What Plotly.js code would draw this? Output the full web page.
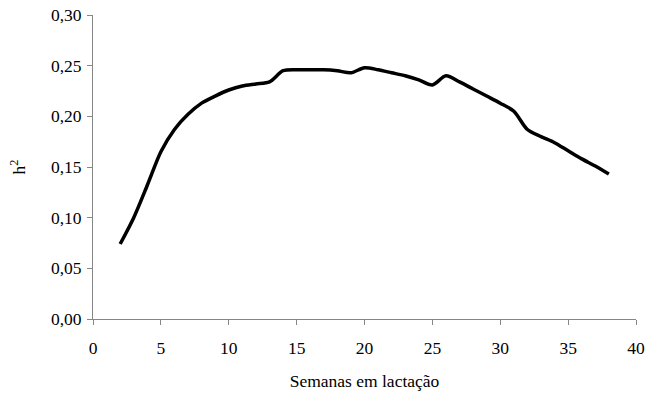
<!DOCTYPE html>
<html>
<head>
<meta charset="utf-8">
<script src="https://cdn.plot.ly/plotly-3.0.1.min.js"></script>
<style>
html,body{margin:0;padding:0;background:#fff;}
#chart{width:651px;height:394px;}
#chart svg text{font-family:'Liberation Serif','Times New Roman',serif !important;}
</style>
</head>
<body>
<div id="chart"></div>
<script>
var semanas = [2,3,4,5,6,7,8,9,10,11,12,13,14,15,16,17,18,19,20,21,22,23,24,25,26,27,28,29,30,31,32,33,34,35,36,37,38];
var h2 = [0.074,0.100,0.132,0.165,0.187,0.202,0.213,0.220,0.226,0.230,0.232,0.234,0.245,0.246,0.246,0.246,0.245,0.243,0.248,0.246,0.243,0.240,0.236,0.231,0.240,0.234,0.227,0.220,0.213,0.205,0.187,0.180,0.174,0.166,0.158,0.151,0.143];
var xTicks = [0,5,10,15,20,25,30,35,40];
var yTicks = [0,0.05,0.10,0.15,0.20,0.25,0.30];

function f(){ return {family: 'Liberation Serif', size: 17.5, color: '#000'}; }
var trace = {
  x: semanas, y: h2, type: 'scatter', mode: 'lines',
  line: {color: '#000', width: 3.5, shape: 'spline', smoothing: 0.8},
  hoverinfo: 'skip'
};
var layout = {
  width: 651, height: 394,
  margin: {l: 93, r: 15, t: 15, b: 75},
  paper_bgcolor: '#fff', plot_bgcolor: '#fff',
  separators: ',.',
  font: f(),
  showlegend: false,
  xaxis: {
    range: [0, 40], tickvals: xTicks,
    showgrid: false, zeroline: false,
    showline: true, linecolor: '#868686', linewidth: 1,
    ticks: 'outside', ticklen: 5, tickcolor: '#868686',
    ticklabelstandoff: 8,
    tickfont: f(),
    title: {text: 'Semanas em lactação', font: f(), standoff: 17}
  },
  yaxis: {
    range: [0, 0.30], tickvals: yTicks, tickformat: '.2f',
    showgrid: false, zeroline: false,
    showline: true, linecolor: '#868686', linewidth: 1,
    ticks: 'outside', ticklen: 5, tickcolor: '#868686',
    ticklabelstandoff: 2,
    tickfont: f(),
    title: {text: 'h<sup>2</sup>', font: f(), standoff: 20}
  }
};
function fixFonts(){
  var texts = document.querySelectorAll('#chart svg text');
  for (var i = 0; i < texts.length; i++) {
    texts[i].setAttribute('font-family', 'Liberation Serif');
    texts[i].style.setProperty('font-family', 'Liberation Serif', 'important');
    void getComputedStyle(texts[i]).fontFamily;
  }
}
Plotly.newPlot('chart', [trace], layout, {displayModeBar: false}).then(function(){
  fixFonts();
  if (document.fonts && document.fonts.ready) {
    document.fonts.ready.then(fixFonts);
  }
});
</script>
</body>
</html>
